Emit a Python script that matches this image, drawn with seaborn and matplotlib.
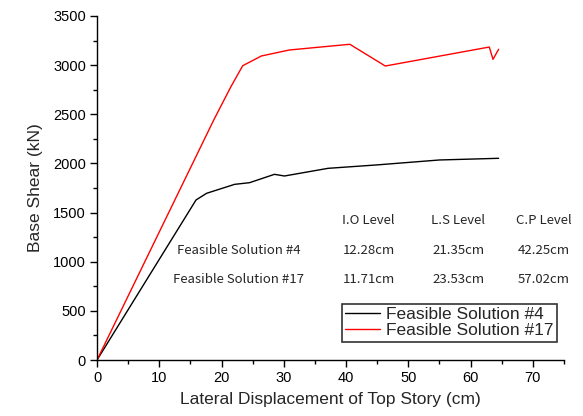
import matplotlib
matplotlib.use("Agg")
import matplotlib.pyplot as plt
import seaborn as sns
from matplotlib.ticker import MultipleLocator

sns.set_theme(style="ticks")
plt.rcParams['font.family'] = ['Liberation Sans', 'DejaVu Sans']

# Feasible Solution #4 (black)
disp_4 = [0, 15.9, 17.6, 22.1, 24.5, 25.3, 28.5, 30.1, 37.1, 45.0, 55.0, 64.5]
shear_4 = [0, 1628, 1696, 1787, 1804, 1821, 1889, 1872, 1950, 1985, 2035, 2052]

# Feasible Solution #17 (red)
disp_17 = [0, 18.75, 21.5, 23.4, 26.4, 30.9, 40.6, 46.3, 63.0, 63.6, 64.5]
shear_17 = [0, 2442, 2780, 2994, 3093, 3154, 3212, 2991, 3184, 3059, 3161]

series_names = ["Feasible Solution #4", "Feasible Solution #17"]
level_headers = ["I.O Level", "L.S Level", "C.P Level"]
levels_4 = ["12.28cm", "21.35cm", "42.25cm"]
levels_17 = ["11.71cm", "23.53cm", "57.02cm"]

fig = plt.figure(figsize=(5.83, 4.16), dpi=100)
ax = fig.add_axes([0.1664, 0.1346, 0.801, 0.827])

sns.lineplot(x=disp_4, y=shear_4, sort=False, estimator=None, color="black",
             linewidth=1.0, ax=ax)
sns.lineplot(x=disp_17, y=shear_17, sort=False, estimator=None, color="red",
             linewidth=1.0, ax=ax)
l1, l2 = ax.lines[0], ax.lines[1]

ax.set_xlim(0, 75)
ax.set_ylim(0, 3500)
ax.xaxis.set_major_locator(MultipleLocator(10))
ax.xaxis.set_minor_locator(MultipleLocator(5))
ax.yaxis.set_major_locator(MultipleLocator(500))
ax.yaxis.set_minor_locator(MultipleLocator(250))
ax.set_xticks(range(0, 80, 10))
ax.set_xticklabels([str(v) for v in range(0, 80, 10)])
for sp in ["top", "right"]:
    ax.spines[sp].set_visible(False)
for sp in ["left", "bottom"]:
    ax.spines[sp].set_color("black")
    ax.spines[sp].set_linewidth(1.0)
ax.tick_params(which="major", direction="out", length=5, width=1, labelsize=10.5, colors="black", pad=3)
ax.tick_params(which="minor", direction="out", length=3, width=1, colors="black")
ax.set_xlabel("Lateral Displacement of Top Story (cm)", fontsize=12.5, labelpad=5)
ax.set_ylabel("Base Shear (kN)", fontsize=12.5, labelpad=7)

afont = dict(fontsize=9.5, family=["Noto Sans CJK KR", "DejaVu Sans"], ha="center", va="center", clip_on=False)
hx = [43.6, 58.0, 71.8]
for xv, t in zip(hx, level_headers):
    ax.text(xv, 1424, t, **afont)
ax.text(22.8, 1119, series_names[0], **afont)
ax.text(22.8, 814, series_names[1], **afont)
for xv, t in zip(hx, levels_4):
    ax.text(xv, 1119, t, **afont)
for xv, t in zip(hx, levels_17):
    ax.text(xv, 814, t, **afont)

leg = ax.legend([l1, l2], series_names, loc="lower right", bbox_to_anchor=(0.985, 0.053),
                fontsize=12.5, frameon=True, fancybox=False, handlelength=2.0,
                borderpad=0.2, labelspacing=0.05, handletextpad=0.35, borderaxespad=0)
leg.get_frame().set_edgecolor("black")
leg.get_frame().set_linewidth(1.2)

fig.savefig("out.png", dpi=100)
